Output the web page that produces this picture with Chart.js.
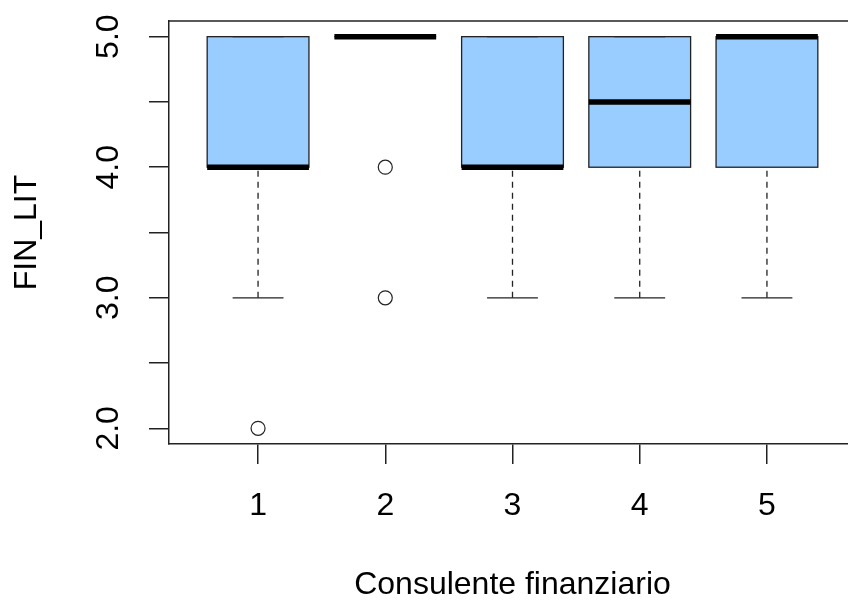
<!DOCTYPE html>
<html>
<head>
<meta charset="utf-8">
<title>FIN_LIT per consulente finanziario</title>
<script src="https://cdn.jsdelivr.net/npm/chart.js@4.4.0/dist/chart.umd.min.js"></script>
<style>
  html, body { margin: 0; padding: 0; background: #fff; overflow: hidden; width: 848px; height: 601px; }
  #wrap { width: 870px; height: 601px; }
</style>
</head>
<body>
<div id="wrap"><canvas id="c" width="870" height="601"></canvas></div>
<script>
// Five-number summaries per group (lower whisker, hinges, median, upper whisker)
const groups = [1, 2, 3, 4, 5];
const groupLabels = ['1', '2', '3', '4', '5'];
const lowerWhisker = [3, 5, 3, 3, 3];
const lowerHinge   = [4, 5, 4, 4, 4];
const medians      = [4, 5, 4, 4.5, 5];
const upperHinge   = [5, 5, 5, 5, 5];
const upperWhisker = [5, 5, 5, 5, 5];

// Points beyond the whiskers
const outlierGroup = [1, 2, 2];
const outlierValue = [2, 4, 3];

// Axis ticks
const yTicks = [2, 2.5, 3, 3.5, 4, 4.5, 5];
const yTickLabels = ['2.0', '', '3.0', '', '4.0', '', '5.0'];

const xTitle = 'Consulente finanziario';
const yTitle = 'FIN_LIT';

const FONT = "'Liberation Sans', Arial, Helvetica, sans-serif";
const INK = '#222';

// Box outlines, whiskers, staples, medians and plot frame
const boxParts = {
  id: 'boxParts',
  afterDatasetsDraw(chart) {
    const { ctx, scales: { x, y }, chartArea } = chart;
    const meta = chart.getDatasetMeta(0);
    const seg = (x0, y0, x1, y1) => { ctx.beginPath(); ctx.moveTo(x0, y0); ctx.lineTo(x1, y1); ctx.stroke(); };
    ctx.save();
    ctx.lineCap = 'butt';
    groups.forEach((g, i) => {
      const bar = meta.data[i];
      const cx = x.getPixelForValue(g);
      const half = bar.width / 2;
      const yLo = y.getPixelForValue(lowerWhisker[i]);
      const yQ1 = y.getPixelForValue(lowerHinge[i]);
      const yMd = y.getPixelForValue(medians[i]);
      const yQ3 = y.getPixelForValue(upperHinge[i]);
      const yHi = y.getPixelForValue(upperWhisker[i]);
      // box outline, stroked on the hinge edges
      ctx.strokeStyle = INK;
      ctx.lineWidth = 1.3;
      ctx.strokeRect(cx - half, Math.min(yQ1, yQ3), 2 * half, Math.abs(yQ1 - yQ3));
      // dashed whiskers
      ctx.setLineDash([6, 5]);
      if (yLo !== yQ1) seg(cx, yLo, cx, yQ1);
      if (yHi !== yQ3) seg(cx, yHi, cx, yQ3);
      ctx.setLineDash([]);
      // staples
      seg(cx - half / 2, yLo, cx + half / 2, yLo);
      seg(cx - half / 2, yHi, cx + half / 2, yHi);
      // median
      ctx.strokeStyle = '#000';
      ctx.lineWidth = 5.5;
      seg(cx - half, yMd, cx + half, yMd);
    });
    // frame: top and right edges (left and bottom come from the axis borders)
    ctx.strokeStyle = INK;
    ctx.lineWidth = 1.5;
    seg(chartArea.left, chartArea.top, chartArea.right, chartArea.top);
    seg(chartArea.right, chartArea.top, chartArea.right, chartArea.bottom);
    ctx.restore();
  }
};

new Chart(document.getElementById('c'), {
  type: 'bar',
  data: {
    datasets: [
      {
        label: 'box',
        data: groups.map((g, i) => ({ x: g, y: [lowerHinge[i], upperHinge[i]] })),
        backgroundColor: '#99CCFF',
        borderWidth: 0,
        barPercentage: 0.8,
        categoryPercentage: 1.0
      },
      {
        type: 'scatter',
        label: 'outliers',
        data: outlierGroup.map((g, i) => ({ x: g, y: outlierValue[i] })),
        pointStyle: 'circle',
        pointRadius: 7,
        pointBorderWidth: 1.2,
        pointBorderColor: INK,
        pointBackgroundColor: 'rgba(0,0,0,0)'
      }
    ]
  },
  options: {
    responsive: false,
    devicePixelRatio: 1,
    animation: false,
    layout: { padding: { left: 0, top: 21, right: 14, bottom: 0 } },
    plugins: { legend: { display: false }, tooltip: { enabled: false } },
    scales: {
      x: {
        type: 'linear',
        min: 0.3,
        max: 5.7,
        offset: false,
        afterBuildTicks: (s) => { s.ticks = groups.map(v => ({ value: v })); },
        afterFit: (s) => { s.height = 157; s.paddingLeft = 0; s.paddingRight = 0; },
        ticks: {
          autoSkip: false,
          maxRotation: 0,
          padding: 23,
          color: '#000',
          font: { family: FONT, size: 32 },
          callback: (v, i) => groupLabels[i]
        },
        grid: { offset: false, drawOnChartArea: false, drawTicks: true, tickLength: 20, color: INK, lineWidth: 1.5 },
        border: { display: true, color: INK, width: 1.5 },
        title: {
          display: true,
          text: xTitle,
          color: '#000',
          font: { family: FONT, size: 32, lineHeight: 1 },
          padding: { top: 0, bottom: 0 }
        }
      },
      y: {
        type: 'linear',
        min: 1.88,
        max: 5.12,
        afterBuildTicks: (s) => { s.ticks = yTicks.map(v => ({ value: v })); },
        afterFit: (s) => { s.width = 169; s.paddingTop = 0; s.paddingBottom = 0; },
        ticks: {
          autoSkip: false,
          minRotation: 90,
          maxRotation: 90,
          crossAlign: 'center',
          padding: 18,
          color: '#000',
          font: { family: FONT, size: 32 },
          callback: (v, i) => yTickLabels[i]
        },
        grid: { drawOnChartArea: false, drawTicks: true, tickLength: 20, color: INK, lineWidth: 1.5 },
        border: { display: true, color: INK, width: 1.5 },
        title: {
          display: true,
          text: yTitle,
          color: '#000',
          font: { family: FONT, size: 32 },
          padding: { top: 8, bottom: 0 }
        }
      }
    }
  },
  plugins: [boxParts]
});
</script>
</body>
</html>
